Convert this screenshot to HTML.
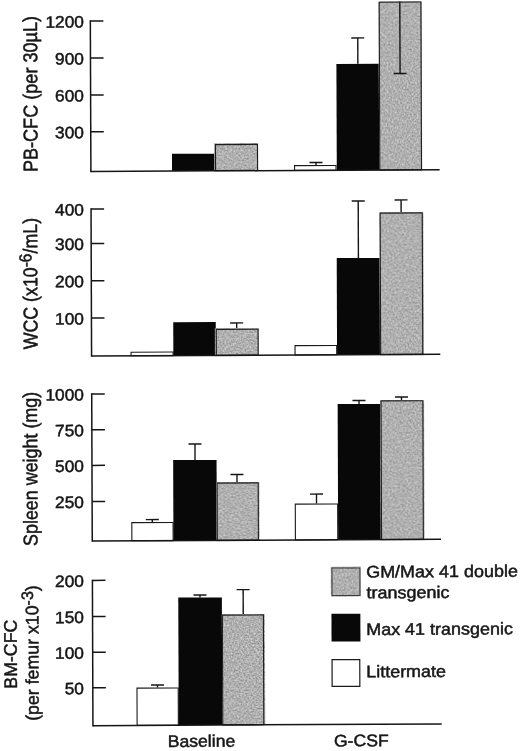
<!DOCTYPE html>
<html><head><meta charset="utf-8"><title>Figure</title>
<style>html,body{margin:0;padding:0;background:#fff}svg{display:block}text{stroke:#161616;stroke-width:0.5px;stroke-linejoin:round}</style>
</head><body>
<svg width="520" height="751" viewBox="0 0 520 751" font-family="'Liberation Sans', Arial, Helvetica, sans-serif" fill="#161616">
<defs>
<filter id="noise" x="0" y="0" width="100%" height="100%" color-interpolation-filters="sRGB">
<feTurbulence type="fractalNoise" baseFrequency="0.6" numOctaves="2" seed="7" result="t"/>
<feColorMatrix in="t" type="matrix" values="0.5 0 0 0 0.44  0.5 0 0 0 0.44  0.5 0 0 0 0.44  0 0 0 0 1"/>
</filter>
</defs>
<rect width="520" height="751" fill="#fff"/>
<g transform="matrix(1 -0.005 0.0037 1 -1.3875 1.3000)">
<rect x="172.79" y="153.42" width="43.0" height="17.18" fill="#080808" stroke="none" stroke-width="0" />
<rect x="215.81" y="143.88" width="43.0" height="26.72" fill="#b0b0b0" stroke="none" stroke-width="0" />
<rect x="215.81" y="143.88" width="43.0" height="26.72" fill="#b0b0b0" stroke="none" stroke-width="0" filter="url(#noise)"/>
<rect x="216.31" y="144.38" width="42.0" height="26.22" fill="none" stroke="#1e1e1e" stroke-width="1.1" />
<line x1="316.78" y1="162.78" x2="316.78" y2="165.28" stroke="#151515" stroke-width="1.4" stroke-linecap="butt"/>
<line x1="310.28" y1="162.78" x2="323.28" y2="162.78" stroke="#151515" stroke-width="1.4" stroke-linecap="butt"/>
<rect x="295.32" y="165.83" width="41.45" height="4.77" fill="#fff" stroke="#1a1a1a" stroke-width="1.1" />
<line x1="359.0" y1="38.39" x2="359.0" y2="64.29" stroke="#151515" stroke-width="1.4" stroke-linecap="butt"/>
<line x1="352.5" y1="38.39" x2="365.5" y2="38.39" stroke="#151515" stroke-width="1.4" stroke-linecap="butt"/>
<rect x="337.55" y="64.29" width="42.4" height="106.31" fill="#080808" stroke="none" stroke-width="0" />
<rect x="380.07" y="2.3" width="42.7" height="168.3" fill="#b0b0b0" stroke="none" stroke-width="0" />
<rect x="380.07" y="2.3" width="42.7" height="168.3" fill="#b0b0b0" stroke="none" stroke-width="0" filter="url(#noise)"/>
<rect x="380.57" y="2.8" width="41.7" height="167.8" fill="none" stroke="#1e1e1e" stroke-width="1.1" />
<line x1="91.65" y1="19.46" x2="91.65" y2="171.35" stroke="#151515" stroke-width="1.5" stroke-linecap="butt"/>
<line x1="91.65" y1="170.6" x2="440.4" y2="170.6" stroke="#151515" stroke-width="1.5" stroke-linecap="butt"/>
<line x1="91.65" y1="20.21" x2="104.7" y2="20.21" stroke="#151515" stroke-width="1.5" stroke-linecap="butt"/>
<text transform="translate(85.29,26.57) scale(1.05,1)" font-size="16.5" text-anchor="end" >1200</text>
<line x1="91.65" y1="57.12" x2="104.7" y2="57.12" stroke="#151515" stroke-width="1.5" stroke-linecap="butt"/>
<text transform="translate(85.15,63.48) scale(1.05,1)" font-size="16.5" text-anchor="end" >900</text>
<line x1="91.65" y1="94.22" x2="104.7" y2="94.22" stroke="#151515" stroke-width="1.5" stroke-linecap="butt"/>
<text transform="translate(85.01,100.58) scale(1.05,1)" font-size="16.5" text-anchor="end" >600</text>
<line x1="91.65" y1="130.96" x2="104.7" y2="130.96" stroke="#151515" stroke-width="1.5" stroke-linecap="butt"/>
<text transform="translate(84.88,137.32) scale(1.05,1)" font-size="16.5" text-anchor="end" >300</text>
<rect x="131.13" y="351.61" width="42.05" height="3.54" fill="#fff" stroke="#1a1a1a" stroke-width="1.1" />
<rect x="173.43" y="321.87" width="42.5" height="33.28" fill="#080808" stroke="none" stroke-width="0" />
<line x1="236.88" y1="322.78" x2="236.88" y2="328.69" stroke="#151515" stroke-width="1.4" stroke-linecap="butt"/>
<line x1="230.38" y1="322.78" x2="243.38" y2="322.78" stroke="#151515" stroke-width="1.4" stroke-linecap="butt"/>
<rect x="215.92" y="328.69" width="42.8" height="26.46" fill="#b0b0b0" stroke="none" stroke-width="0" />
<rect x="215.92" y="328.69" width="42.8" height="26.46" fill="#b0b0b0" stroke="none" stroke-width="0" filter="url(#noise)"/>
<rect x="216.42" y="329.19" width="41.8" height="25.96" fill="none" stroke="#1e1e1e" stroke-width="1.1" />
<rect x="295.14" y="345.83" width="41.65" height="9.32" fill="#fff" stroke="#1a1a1a" stroke-width="1.1" />
<line x1="358.84" y1="201.49" x2="358.84" y2="258.49" stroke="#151515" stroke-width="1.4" stroke-linecap="butt"/>
<line x1="352.34" y1="201.49" x2="365.34" y2="201.49" stroke="#151515" stroke-width="1.4" stroke-linecap="butt"/>
<rect x="337.15" y="258.49" width="43.0" height="96.66" fill="#080808" stroke="none" stroke-width="0" />
<line x1="401.72" y1="200.61" x2="401.72" y2="213.21" stroke="#151515" stroke-width="1.4" stroke-linecap="butt"/>
<line x1="395.22" y1="200.61" x2="408.22" y2="200.61" stroke="#151515" stroke-width="1.4" stroke-linecap="butt"/>
<rect x="380.24" y="213.21" width="43.1" height="141.94" fill="#b0b0b0" stroke="none" stroke-width="0" />
<rect x="380.24" y="213.21" width="43.1" height="141.94" fill="#b0b0b0" stroke="none" stroke-width="0" filter="url(#noise)"/>
<rect x="380.74" y="213.71" width="42.1" height="141.44" fill="none" stroke="#1e1e1e" stroke-width="1.1" />
<line x1="91.65" y1="207.39" x2="91.65" y2="355.9" stroke="#151515" stroke-width="1.5" stroke-linecap="butt"/>
<line x1="91.65" y1="355.15" x2="440.4" y2="355.15" stroke="#151515" stroke-width="1.5" stroke-linecap="butt"/>
<line x1="91.65" y1="208.14" x2="104.7" y2="208.14" stroke="#151515" stroke-width="1.5" stroke-linecap="butt"/>
<text transform="translate(84.59,214.5) scale(1.05,1)" font-size="16.5" text-anchor="end" >400</text>
<line x1="91.65" y1="242.66" x2="104.7" y2="242.66" stroke="#151515" stroke-width="1.5" stroke-linecap="butt"/>
<text transform="translate(84.46,249.02) scale(1.05,1)" font-size="16.5" text-anchor="end" >300</text>
<line x1="91.65" y1="279.96" x2="104.7" y2="279.96" stroke="#151515" stroke-width="1.5" stroke-linecap="butt"/>
<text transform="translate(84.32,286.32) scale(1.05,1)" font-size="16.5" text-anchor="end" >200</text>
<line x1="91.65" y1="317.16" x2="104.7" y2="317.16" stroke="#151515" stroke-width="1.5" stroke-linecap="butt"/>
<text transform="translate(84.19,323.52) scale(1.05,1)" font-size="16.5" text-anchor="end" >100</text>
<line x1="151.76" y1="519.06" x2="151.76" y2="521.46" stroke="#151515" stroke-width="1.4" stroke-linecap="butt"/>
<line x1="145.26" y1="519.06" x2="158.26" y2="519.06" stroke="#151515" stroke-width="1.4" stroke-linecap="butt"/>
<rect x="131.27" y="522.01" width="41.25" height="18.14" fill="#fff" stroke="#1a1a1a" stroke-width="1.1" />
<line x1="194.72" y1="443.68" x2="194.72" y2="459.68" stroke="#151515" stroke-width="1.4" stroke-linecap="butt"/>
<line x1="188.22" y1="443.68" x2="201.22" y2="443.68" stroke="#151515" stroke-width="1.4" stroke-linecap="butt"/>
<rect x="172.84" y="459.68" width="43.4" height="80.47" fill="#080808" stroke="none" stroke-width="0" />
<line x1="236.62" y1="474.38" x2="236.62" y2="482.39" stroke="#151515" stroke-width="1.4" stroke-linecap="butt"/>
<line x1="230.12" y1="474.38" x2="243.12" y2="474.38" stroke="#151515" stroke-width="1.4" stroke-linecap="butt"/>
<rect x="216.2" y="482.39" width="42.1" height="57.76" fill="#b0b0b0" stroke="none" stroke-width="0" />
<rect x="216.2" y="482.39" width="42.1" height="57.76" fill="#b0b0b0" stroke="none" stroke-width="0" filter="url(#noise)"/>
<rect x="216.7" y="482.89" width="41.1" height="57.26" fill="none" stroke="#1e1e1e" stroke-width="1.1" />
<line x1="316.04" y1="494.38" x2="316.04" y2="503.78" stroke="#151515" stroke-width="1.4" stroke-linecap="butt"/>
<line x1="309.54" y1="494.38" x2="322.54" y2="494.38" stroke="#151515" stroke-width="1.4" stroke-linecap="butt"/>
<rect x="294.81" y="504.33" width="42.35" height="35.82" fill="#fff" stroke="#1a1a1a" stroke-width="1.1" />
<line x1="358.9" y1="401.0" x2="358.9" y2="404.5" stroke="#151515" stroke-width="1.4" stroke-linecap="butt"/>
<line x1="352.4" y1="401.0" x2="365.4" y2="401.0" stroke="#151515" stroke-width="1.4" stroke-linecap="butt"/>
<rect x="337.54" y="404.5" width="42.9" height="135.65" fill="#080808" stroke="none" stroke-width="0" />
<line x1="401.41" y1="397.71" x2="401.41" y2="401.01" stroke="#151515" stroke-width="1.4" stroke-linecap="butt"/>
<line x1="394.91" y1="397.71" x2="407.91" y2="397.71" stroke="#151515" stroke-width="1.4" stroke-linecap="butt"/>
<rect x="380.45" y="401.01" width="42.8" height="139.14" fill="#b0b0b0" stroke="none" stroke-width="0" />
<rect x="380.45" y="401.01" width="42.8" height="139.14" fill="#b0b0b0" stroke="none" stroke-width="0" filter="url(#noise)"/>
<rect x="380.95" y="401.51" width="41.8" height="138.64" fill="none" stroke="#1e1e1e" stroke-width="1.1" />
<line x1="91.65" y1="392.39" x2="91.65" y2="540.9" stroke="#151515" stroke-width="1.5" stroke-linecap="butt"/>
<line x1="91.65" y1="540.15" x2="440.4" y2="540.15" stroke="#151515" stroke-width="1.5" stroke-linecap="butt"/>
<line x1="91.65" y1="393.14" x2="104.7" y2="393.14" stroke="#151515" stroke-width="1.5" stroke-linecap="butt"/>
<text transform="translate(83.91,399.5) scale(1.05,1)" font-size="16.5" text-anchor="end" >1000</text>
<line x1="91.65" y1="428.94" x2="104.7" y2="428.94" stroke="#151515" stroke-width="1.5" stroke-linecap="butt"/>
<text transform="translate(83.77,435.3) scale(1.05,1)" font-size="16.5" text-anchor="end" >750</text>
<line x1="91.65" y1="464.56" x2="104.7" y2="464.56" stroke="#151515" stroke-width="1.5" stroke-linecap="butt"/>
<text transform="translate(83.64,470.92) scale(1.05,1)" font-size="16.5" text-anchor="end" >500</text>
<line x1="91.65" y1="500.71" x2="104.7" y2="500.71" stroke="#151515" stroke-width="1.5" stroke-linecap="butt"/>
<text transform="translate(83.51,507.07) scale(1.05,1)" font-size="16.5" text-anchor="end" >250</text>
<line x1="156.35" y1="684.49" x2="156.35" y2="686.99" stroke="#151515" stroke-width="1.4" stroke-linecap="butt"/>
<line x1="149.85" y1="684.49" x2="162.85" y2="684.49" stroke="#151515" stroke-width="1.4" stroke-linecap="butt"/>
<rect x="135.82" y="687.54" width="41.25" height="37.26" fill="#fff" stroke="#1a1a1a" stroke-width="1.1" />
<line x1="199.18" y1="594.7" x2="199.18" y2="597.2" stroke="#151515" stroke-width="1.4" stroke-linecap="butt"/>
<line x1="192.68" y1="594.7" x2="205.68" y2="594.7" stroke="#151515" stroke-width="1.4" stroke-linecap="butt"/>
<rect x="177.44" y="597.2" width="43.6" height="127.6" fill="#080808" stroke="none" stroke-width="0" />
<line x1="242.36" y1="589.52" x2="242.36" y2="614.42" stroke="#151515" stroke-width="1.4" stroke-linecap="butt"/>
<line x1="235.86" y1="589.52" x2="248.86" y2="589.52" stroke="#151515" stroke-width="1.4" stroke-linecap="butt"/>
<rect x="221.01" y="614.42" width="42.0" height="110.38" fill="#b0b0b0" stroke="none" stroke-width="0" />
<rect x="221.01" y="614.42" width="42.0" height="110.38" fill="#b0b0b0" stroke="none" stroke-width="0" filter="url(#noise)"/>
<rect x="221.51" y="614.92" width="41.0" height="109.88" fill="none" stroke="#1e1e1e" stroke-width="1.1" />
<line x1="91.65" y1="578.81" x2="91.65" y2="725.55" stroke="#151515" stroke-width="1.5" stroke-linecap="butt"/>
<line x1="91.65" y1="724.8" x2="440.4" y2="724.8" stroke="#151515" stroke-width="1.5" stroke-linecap="butt"/>
<line x1="91.65" y1="579.56" x2="104.7" y2="579.56" stroke="#151515" stroke-width="1.5" stroke-linecap="butt"/>
<text transform="translate(83.22,585.92) scale(1.05,1)" font-size="16.5" text-anchor="end" >200</text>
<line x1="91.65" y1="615.76" x2="104.7" y2="615.76" stroke="#151515" stroke-width="1.5" stroke-linecap="butt"/>
<text transform="translate(83.08,622.12) scale(1.05,1)" font-size="16.5" text-anchor="end" >150</text>
<line x1="91.65" y1="651.36" x2="104.7" y2="651.36" stroke="#151515" stroke-width="1.5" stroke-linecap="butt"/>
<text transform="translate(82.95,657.72) scale(1.05,1)" font-size="16.5" text-anchor="end" >100</text>
<line x1="91.65" y1="686.96" x2="104.7" y2="686.96" stroke="#151515" stroke-width="1.5" stroke-linecap="butt"/>
<text transform="translate(82.82,693.32) scale(1.05,1)" font-size="16.5" text-anchor="end" >50</text>
<line x1="401.18" y1="2.3" x2="401.18" y2="74.2" stroke="#151515" stroke-width="1.4" stroke-linecap="butt"/>
<line x1="394.68" y1="74.2" x2="407.68" y2="74.2" stroke="#151515" stroke-width="1.4" stroke-linecap="butt"/>
<text transform="translate(38.34,92.89) rotate(-90) scale(0.905,1)" font-size="20" text-anchor="middle">PB-CFC (per 30µL)</text>
<text transform="translate(37.64,282.49) rotate(-90) scale(0.89,1)" font-size="20" text-anchor="middle">WCC (x10<tspan font-size="17.5" dy="-5.8">-6</tspan><tspan dy="5.8">/mL)</tspan></text>
<text transform="translate(36.95,467.79) rotate(-90) scale(0.895,1)" font-size="20" text-anchor="middle">Spleen weight (mg)</text>
<text transform="translate(15.77,652.98) rotate(-90) scale(0.975,1)" font-size="18.2" text-anchor="middle">BM-CFC</text>
<text transform="translate(37.47,651.89) rotate(-90) scale(0.975,1)" font-size="18.2" text-anchor="middle">(per femur x10<tspan font-size="16.5" dy="-5.2">-3</tspan><tspan dy="5.2">)</tspan></text>
<text transform="translate(200.12,746.51) scale(1.05,1)" font-size="16.8" text-anchor="middle" >Baseline</text>
<text transform="translate(359.93,746.81) scale(1.05,1)" font-size="16.8" text-anchor="middle" >G-CSF</text>
<rect x="330.74" y="567.93" width="28.9" height="28.5" fill="#b0b0b0" stroke="none" stroke-width="0" />
<rect x="330.74" y="567.93" width="28.9" height="28.5" fill="#b0b0b0" stroke="none" stroke-width="0" filter="url(#noise)"/>
<rect x="331.24" y="568.43" width="27.9" height="27.5" fill="none" stroke="#3a3a3a" stroke-width="1.0" />
<rect x="330.57" y="614.13" width="28.9" height="27.8" fill="#080808" stroke="none" stroke-width="0" />
<rect x="331.0" y="660.03" width="27.7" height="26.8" fill="#fff" stroke="#1a1a1a" stroke-width="1.2" />
<text transform="translate(365.45,578.03) scale(1.07,1)" font-size="16.8" text-anchor="start" >GM/Max 41 double</text>
<text transform="translate(365.77,598.83) scale(1.07,1)" font-size="16.8" text-anchor="start" >transgenic</text>
<text transform="translate(365.24,635.53) scale(1.07,1)" font-size="16.8" text-anchor="start" >Max 41 transgenic</text>
<text transform="translate(365.08,677.83) scale(1.07,1)" font-size="16.8" text-anchor="start" >Littermate</text>
</g>
</svg>
</body></html>
